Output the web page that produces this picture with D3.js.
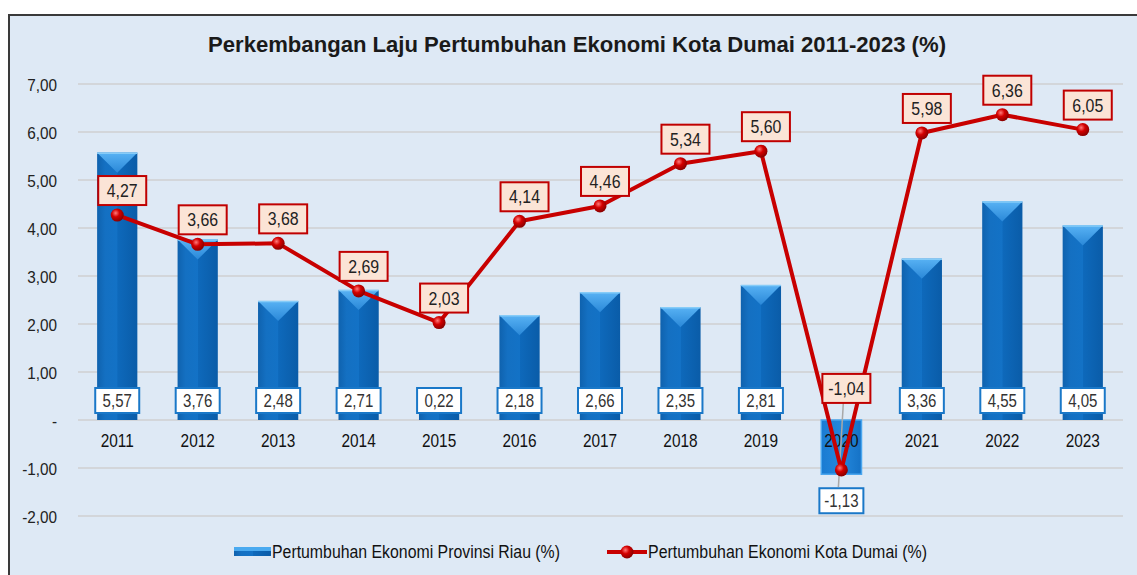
<!DOCTYPE html>
<html>
<head>
<meta charset="utf-8">
<script src="https://cdn.jsdelivr.net/npm/d3@7"></script>
<style>
  body { margin: 0; background: #fff; }
  svg { display: block; }
</style>
</head>
<body>
<div id="container"></div>
<script>
let years = ["2011","2012","2013","2014","2015","2016","2017","2018","2019","2020","2021","2022","2023"];
let riau = [5.57, 3.76, 2.48, 2.71, 0.22, 2.18, 2.66, 2.35, 2.81, -1.13, 3.36, 4.55, 4.05];
let dumai = [4.27, 3.66, 3.68, 2.69, 2.03, 4.14, 4.46, 5.34, 5.60, -1.04, 5.98, 6.36, 6.05];
let yTicks = [-2, -1, 0, 1, 2, 3, 4, 5, 6, 7];
let seriesNames = ["Pertumbuhan Ekonomi Provinsi Riau (%)", "Pertumbuhan Ekonomi Kota Dumai (%)"];
let title = "Perkembangan Laju Pertumbuhan Ekonomi Kota Dumai 2011-2023 (%)";

let w = 1137;
let h = 575;
let sans = "'Liberation Sans', Arial, sans-serif";

// indonesian number format, plain hyphen for minus
let locale = d3.formatLocale({decimal: ",", thousands: ".", grouping: [3], currency: ["", ""], minus: "-"});
let fmt = locale.format(".2f");

// squeeze text horizontally to mimic the narrow font of the original
function squeeze(sel, sx) {
  sel.each(function() {
    let t = d3.select(this);
    let tx = +t.attr("x") || 0, ty = +t.attr("y") || 0;
    t.attr("x", 0).attr("y", 0)
      .attr("transform", "translate(" + tx + "," + ty + ") scale(" + sx + ",1)");
  });
}

let svg = d3.select("#container")
  .append("svg")
  .attr("width", w)
  .attr("height", h);

let defs = svg.append("defs");

let barGrad = defs.append("linearGradient").attr("id", "barGrad")
  .attr("x1", 0).attr("x2", 1).attr("y1", 0).attr("y2", 0);
barGrad.append("stop").attr("offset", "0%").attr("stop-color", "#0f62ae");
barGrad.append("stop").attr("offset", "20%").attr("stop-color", "#1470c2");
barGrad.append("stop").attr("offset", "50%").attr("stop-color", "#1372c6");
barGrad.append("stop").attr("offset", "51%").attr("stop-color", "#0e69bb");
barGrad.append("stop").attr("offset", "100%").attr("stop-color", "#0a5ca8");

let bevelGrad = defs.append("linearGradient").attr("id", "bevelGrad")
  .attr("x1", 0).attr("x2", 0).attr("y1", 0).attr("y2", 1);
bevelGrad.append("stop").attr("offset", "0%").attr("stop-color", "#58b2f4");
bevelGrad.append("stop").attr("offset", "100%").attr("stop-color", "#2a88d8");

let negGrad = defs.append("linearGradient").attr("id", "negGrad")
  .attr("x1", 0).attr("x2", 1).attr("y1", 0).attr("y2", 0);
negGrad.append("stop").attr("offset", "0%").attr("stop-color", "#1a7bd2");
negGrad.append("stop").attr("offset", "50%").attr("stop-color", "#2488dc");
negGrad.append("stop").attr("offset", "100%").attr("stop-color", "#1572c6");

let ballGrad = defs.append("radialGradient").attr("id", "ballGrad")
  .attr("cx", "38%").attr("cy", "35%").attr("r", "65%");
ballGrad.append("stop").attr("offset", "0%").attr("stop-color", "#ff7a7a");
ballGrad.append("stop").attr("offset", "45%").attr("stop-color", "#d40000");
ballGrad.append("stop").attr("offset", "100%").attr("stop-color", "#8a0000");

// chart area background + frame
svg.append("rect")
  .attr("x", 8).attr("y", 14)
  .attr("width", w - 8).attr("height", h - 14)
  .attr("fill", "#dee9f5");
svg.append("path")
  .attr("d", "M9," + h + " L9,15 L" + w + ",15")
  .attr("fill", "none")
  .attr("stroke", "#3a3a3a")
  .attr("stroke-width", 2);

// title
svg.append("text")
  .attr("x", 577).attr("y", 52)
  .attr("text-anchor", "middle")
  .attr("textLength", 738)
  .attr("lengthAdjust", "spacingAndGlyphs")
  .style("font-family", sans)
  .style("font-weight", "bold")
  .style("font-size", "22px")
  .attr("fill", "#1a1a1a")
  .text(title);

let x = d3.scaleBand()
  .domain(years)
  .range([77, 1123])
  .paddingInner(0.5)
  .paddingOuter(0.25);

let y = d3.scaleLinear()
  .domain([-2, 7])
  .range([516, 84]);

let barData = years.map((yr, i) => ({year: yr, value: riau[i]}));
let lineData = years.map((yr, i) => ({year: yr, value: dumai[i]}));
let cx = d => x(d.year) + x.bandwidth() / 2;

// gridlines
svg.append("g")
  .selectAll("line")
  .data(yTicks)
  .enter()
  .append("line")
  .attr("x1", 78).attr("x2", 1123)
  .attr("y1", d => y(d)).attr("y2", d => y(d))
  .attr("stroke", "#d3d6da")
  .attr("stroke-width", 2);

// y axis labels
let yAxis = d3.axisLeft(y)
  .tickValues(yTicks)
  .tickSize(0)
  .tickPadding(0)
  .tickFormat(d => d === 0 ? "-" : fmt(d));
let yg = svg.append("g")
  .attr("transform", "translate(57,0)")
  .call(yAxis)
  .call(g => g.select(".domain").remove());
yg.selectAll("text")
  .attr("dy", "0.36em")
  .style("font-family", sans)
  .style("font-size", "17px")
  .attr("fill", "#222")
  .call(squeeze, 0.9);

// bars
let bars = svg.append("g")
  .selectAll("g")
  .data(barData)
  .enter()
  .append("g");

bars.append("rect")
  .attr("x", d => x(d.year))
  .attr("y", d => y(Math.max(0, d.value)))
  .attr("width", x.bandwidth())
  .attr("height", d => Math.abs(y(d.value) - y(0)))
  .attr("fill", d => d.value < 0 ? "url(#negGrad)" : "url(#barGrad)")
  .attr("stroke", d => d.value < 0 ? "#4aa6ee" : "none")
  .attr("stroke-width", 1.5);

// top bevel: light triangle pointing down
bars.filter(d => d.value > 0.5)
  .append("path")
  .attr("d", function(d) {
    let x0 = x(d.year), x1 = x0 + x.bandwidth(), yt = y(d.value);
    return "M" + x0 + "," + yt + " L" + x1 + "," + yt + " L" + ((x0 + x1) / 2) + "," + (yt + 20) + " Z";
  })
  .attr("fill", "url(#bevelGrad)");
bars.filter(d => d.value > 0.5)
  .append("line")
  .attr("x1", d => x(d.year))
  .attr("x2", d => x(d.year) + x.bandwidth())
  .attr("y1", d => y(d.value) + 0.5)
  .attr("y2", d => y(d.value) + 0.5)
  .attr("stroke", "#86ccf8")
  .attr("stroke-width", 1.5);

// x labels
svg.append("g")
  .selectAll("text")
  .data(years)
  .enter()
  .append("text")
  .attr("x", d => x(d) + x.bandwidth() / 2)
  .attr("y", 447)
  .attr("text-anchor", "middle")
  .style("font-family", sans)
  .style("font-size", "17.5px")
  .attr("fill", "#111")
  .text(d => d)
  .call(squeeze, 0.88);

// leader line for the 2020 labels
let neg = lineData.find(d => d.value < 0);
let nx = cx(neg);
svg.append("line")
  .attr("x1", nx + 2).attr("x2", nx - 3)
  .attr("y1", 402).attr("y2", 487)
  .attr("stroke", "#a8a8a8")
  .attr("stroke-width", 1.5);

// bar value labels
let barLabels = svg.append("g")
  .selectAll("g")
  .data(barData)
  .enter()
  .append("g")
  .attr("transform", d => "translate(" + cx(d) + "," + (d.value < 0 ? y(d.value) + 26 : y(0) - 20) + ")");
barLabels.append("rect")
  .attr("x", -22).attr("y", -12)
  .attr("width", 44).attr("height", 25)
  .attr("fill", "#fff")
  .attr("stroke", "#1a78c8")
  .attr("stroke-width", 2);
barLabels.append("text")
  .attr("y", 7)
  .attr("text-anchor", "middle")
  .style("font-family", sans)
  .style("font-size", "17.5px")
  .attr("fill", "#333")
  .text(d => fmt(d.value))
  .call(squeeze, 0.86);

// line
let line = d3.line()
  .x(d => cx(d))
  .y(d => y(d.value));
svg.append("path")
  .datum(lineData)
  .attr("d", line)
  .attr("fill", "none")
  .attr("stroke", "#c80000")
  .attr("stroke-width", 4)
  .attr("stroke-linejoin", "round");

svg.append("g")
  .selectAll("circle")
  .data(lineData)
  .enter()
  .append("circle")
  .attr("cx", d => cx(d))
  .attr("cy", d => y(d.value))
  .attr("r", 6.5)
  .attr("fill", "url(#ballGrad)");

// line value labels
let lineLabels = svg.append("g")
  .selectAll("g")
  .data(lineData)
  .enter()
  .append("g")
  .attr("transform", d => "translate(" + (cx(d) + 5) + "," + (d.value < 0 ? y(d.value) - 82 : y(d.value) - 25) + ")");
lineLabels.append("rect")
  .attr("x", -24).attr("y", -14)
  .attr("width", 48).attr("height", 29)
  .attr("fill", "#fbe4d6")
  .attr("stroke", "#c00000")
  .attr("stroke-width", 2);
lineLabels.append("text")
  .attr("y", 7)
  .attr("text-anchor", "middle")
  .style("font-family", sans)
  .style("font-size", "18.5px")
  .attr("fill", "#222")
  .text(d => fmt(d.value))
  .call(squeeze, 0.86);

// legend
let legend = svg.append("g").attr("transform", "translate(0,552)");
legend.append("rect")
  .attr("x", 234).attr("y", -5)
  .attr("width", 37).attr("height", 9)
  .attr("fill", "url(#barGrad)");
legend.append("rect")
  .attr("x", 234).attr("y", -5)
  .attr("width", 37).attr("height", 4)
  .attr("fill", "#4aaaf0");
legend.append("text")
  .attr("x", 272).attr("y", 6)
  .attr("textLength", 288)
  .attr("lengthAdjust", "spacingAndGlyphs")
  .style("font-family", sans)
  .style("font-size", "17.5px")
  .attr("fill", "#111")
  .text(seriesNames[0]);
legend.append("line")
  .attr("x1", 607).attr("x2", 647)
  .attr("y1", 0).attr("y2", 0)
  .attr("stroke", "#c80000")
  .attr("stroke-width", 4);
legend.append("circle")
  .attr("cx", 627).attr("cy", 0)
  .attr("r", 6.5)
  .attr("fill", "url(#ballGrad)");
legend.append("text")
  .attr("x", 648).attr("y", 6)
  .attr("textLength", 279)
  .attr("lengthAdjust", "spacingAndGlyphs")
  .style("font-family", sans)
  .style("font-size", "17.5px")
  .attr("fill", "#111")
  .text(seriesNames[1]);
</script>
</body>
</html>
